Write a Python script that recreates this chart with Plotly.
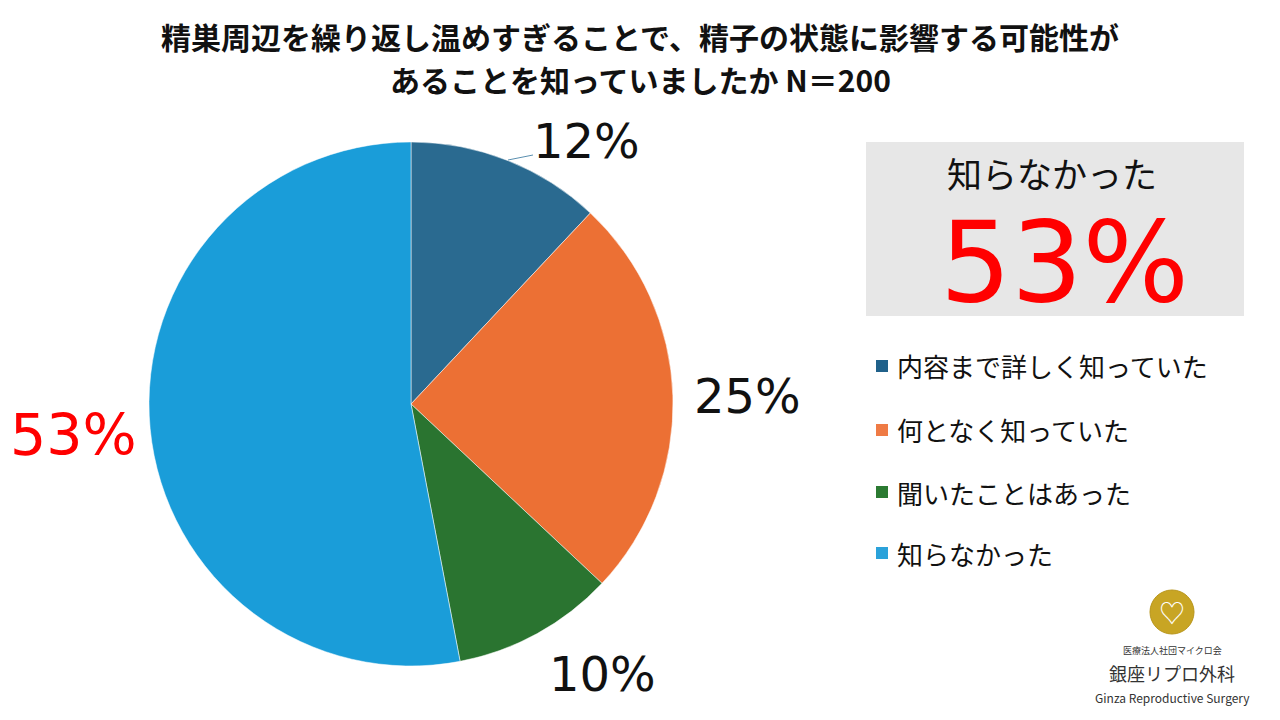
import plotly.graph_objects as go

# データ
labels = ["内容まで詳しく知っていた", "何となく知っていた", "聞いたことはあった", "知らなかった"]
values = [12, 25, 10, 53]
colors = ["#2a6a90", "#ec7034", "#2a7430", "#1a9dd9"]
legend_colors = ["#20618a", "#ef7b45", "#2b7a32", "#2ba2da"]
title_lines = [
    "精巣周辺を繰り返し温めすぎることで、精子の状態に影響する可能性が",
    "あることを知っていましたか N＝200",
]

_FONT = "Noto Sans CJK JP, Noto Sans, sans-serif"
_NUM_FONT = "DejaVu Sans, Noto Sans, sans-serif"
_RED = "#ff0000"
_W, _H, _OFF = 1272, 712, 8  # ページの余白 8px を差し引く


def px(x):
    return (x - _OFF) / _W


def py(y):
    return 1 - (y - _OFF) / _H


fig = go.Figure()

fig.add_trace(
    go.Pie(
        labels=labels,
        values=values,
        sort=False,
        direction="clockwise",
        rotation=0,
        marker=dict(colors=colors, line=dict(color="rgba(255,255,255,0.5)", width=1)),
        textinfo="none",
        hoverinfo="label+percent",
        showlegend=False,
        domain=dict(x=[px(411 - 262), px(411 + 262)], y=[py(666), py(142)]),
    )
)

annotations = []

# タイトル(2行)
for t, ty in zip(title_lines, [36, 79]):
    annotations.append(
        dict(
            text=f"<b>{t}</b>",
            x=px(640), y=py(ty), xref="paper", yref="paper",
            xanchor="center", yanchor="middle", showarrow=False,
            font=dict(size=30, color="#111111", family=_FONT),
        )
    )

# 割合ラベル
label_pos = [(586, 141), (747, 396), (602, 674), (73, 435)]
label_colors = ["#111111", "#111111", "#111111", _RED]
label_sizes = [48, 48, 48, 57]
for v, (lx, ly), c, s in zip(values, label_pos, label_colors, label_sizes):
    annotations.append(
        dict(
            text=f"{v}%",
            x=px(lx), y=py(ly), xref="paper", yref="paper",
            xanchor="center", yanchor="middle", showarrow=False,
            font=dict(size=s, color=c, family=_NUM_FONT),
        )
    )

# 強調ボックス
annotations.append(
    dict(
        text=labels[3],
        x=px(1052), y=py(172), xref="paper", yref="paper",
        xanchor="center", yanchor="middle", showarrow=False,
        font=dict(size=35, color="#111111", family=_FONT),
    )
)
annotations.append(
    dict(
        text=f"{values[3]}%",
        x=px(1064), y=py(262), xref="paper", yref="paper",
        xanchor="center", yanchor="middle", showarrow=False,
        font=dict(size=112, color=_RED, family=_NUM_FONT),
    )
)

shapes = [
    dict(
        type="rect", xref="paper", yref="paper",
        x0=px(866), x1=px(1244), y0=py(316), y1=py(142),
        fillcolor="#e7e7e7", line=dict(width=0), layer="below",
    ),
    # 12% の引き出し線
    dict(
        type="line", xref="paper", yref="paper",
        x0=px(508), y0=py(160), x1=px(533), y1=py(155),
        line=dict(color="#5a8fb0", width=1),
    ),
]

# 凡例(手描き)
legend_y = [366, 430, 492, 553]
for lab, c, ly in zip(labels, legend_colors, legend_y):
    shapes.append(
        dict(
            type="rect", xref="paper", yref="paper",
            x0=px(876), x1=px(888), y0=py(ly + 6), y1=py(ly - 6),
            fillcolor=c, line=dict(width=0),
        )
    )
    annotations.append(
        dict(
            text=lab,
            x=px(895), y=py(ly), xref="paper", yref="paper",
            xanchor="left", yanchor="middle", showarrow=False,
            font=dict(size=26, color="#111111", family=_FONT),
        )
    )

# ロゴ
shapes.append(
    dict(
        type="circle", xref="paper", yref="paper",
        x0=px(1150), x1=px(1194), y0=py(634), y1=py(590),
        fillcolor="#c8a524", line=dict(color="#b8951a", width=1),
    )
)
annotations.append(
    dict(
        text="♡", x=px(1172), y=py(611), xref="paper", yref="paper",
        xanchor="center", yanchor="middle", showarrow=False,
        font=dict(size=26, color="#ffffff", family=_FONT),
    )
)
logo_texts = [("医療法人社団マイクロ会", 650, 9), ("銀座リプロ外科", 673, 18), ("Ginza Reproductive Surgery", 697, 12)]
for t, ty, ts in logo_texts:
    annotations.append(
        dict(
            text=t, x=px(1172), y=py(ty), xref="paper", yref="paper",
            xanchor="center", yanchor="middle", showarrow=False,
            font=dict(size=ts, color="#333333", family=_FONT),
        )
    )

fig.update_layout(
    width=_W,
    height=_H,
    margin=dict(l=0, r=0, t=0, b=0),
    paper_bgcolor="#ffffff",
    plot_bgcolor="#ffffff",
    annotations=annotations,
    shapes=shapes,
    showlegend=False,
)

fig.write_html("out.html", config={"displayModeBar": False})
